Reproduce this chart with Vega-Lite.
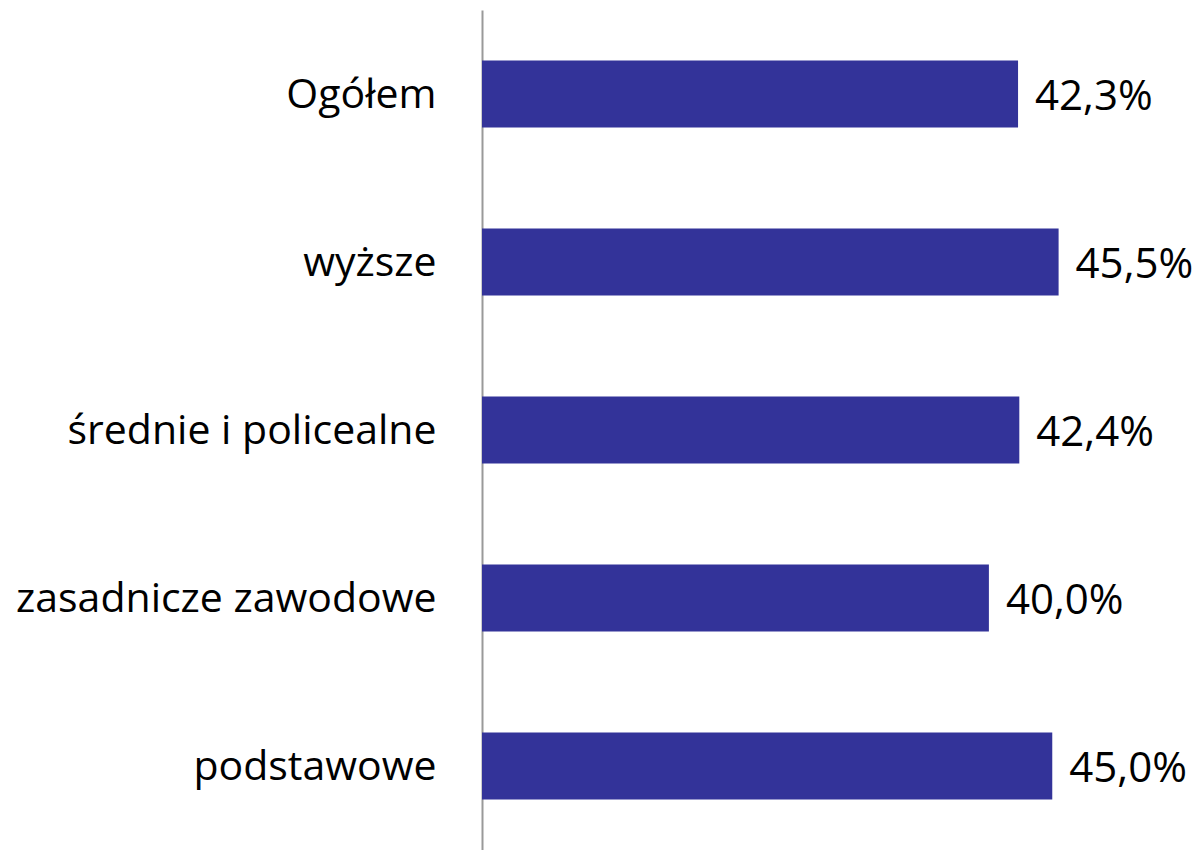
{
  "$schema": "https://vega.github.io/schema/vega-lite/v6.json",
  "width": 716,
  "height": 840,
  "autosize": "none",
  "padding": {"left": 482, "top": 10, "right": 0, "bottom": 0},
  "background": "white",
  "data": {
    "values": [
      {"category": "Ogółem", "value": 42.3, "label": "42,3%"},
      {"category": "wyższe", "value": 45.5, "label": "45,5%"},
      {"category": "średnie i policealne", "value": 42.4, "label": "42,4%"},
      {"category": "zasadnicze zawodowe", "value": 40.0, "label": "40,0%"},
      {"category": "podstawowe", "value": 45.0, "label": "45,0%"}
    ]
  },
  "encoding": {
    "y": {
      "field": "category",
      "type": "nominal",
      "sort": null,
      "scale": {"paddingInner": 0.6, "paddingOuter": 0.3},
      "axis": {
        "title": null,
        "domain": true,
        "domainColor": "#999999",
        "domainWidth": 2,
        "ticks": false,
        "labelFont": "Open Sans",
        "labelFontSize": 41,
        "labelColor": "#000000",
        "labelPadding": 46,
        "labelOffset": 2,
        "labelLimit": 600
      }
    },
    "x": {
      "field": "value",
      "type": "quantitative",
      "scale": {"domain": [0, 56.5]},
      "axis": null
    }
  },
  "layer": [
    {"mark": {"type": "bar", "color": "#333399"}},
    {
      "mark": {"type": "text", "align": "left", "baseline": "middle", "dx": 17, "dy": 3, "font": "Open Sans", "fontSize": 42, "color": "#000000"},
      "encoding": {"text": {"field": "label"}}
    }
  ],
  "config": {"view": {"stroke": null}}
}
